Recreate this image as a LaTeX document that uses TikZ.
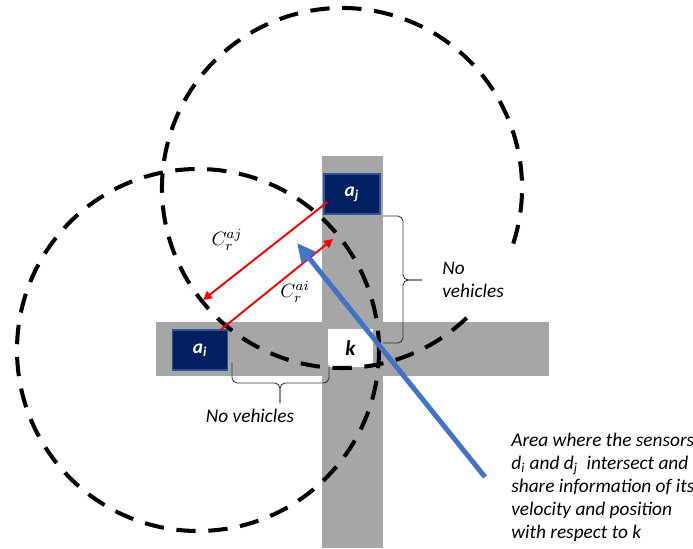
\documentclass[tikz,border=0pt]{standalone}
\usepackage{fontspec}
\setmainfont{Carlito}
\usetikzlibrary{arrows.meta}
\definecolor{roadgray}{HTML}{A6A6A6}
\definecolor{carblue}{HTML}{002060}
\definecolor{carline}{HTML}{2F5597}
\definecolor{areablue}{HTML}{4472C4}
\tikzset{
    road/.style={fill=roadgray},
    car/.style={fill=carblue, draw=carline, line width=0.6pt, text=white,
        font=\fontsize{11}{13}\selectfont\bfseries\itshape,
        minimum width=1.1cm, minimum height=0.8cm, inner sep=0pt},
    crossing/.style={fill=white, font=\fontsize{12}{14}\selectfont\bfseries\itshape,
        minimum width=0.9cm, minimum height=0.76cm, inner sep=0pt},
    sensor/.style={draw, line width=2.3pt, dash pattern=on 11pt off 7.2pt},
    reach/.style={red, line width=1.1pt, -{Triangle[length=5pt,width=5pt]}},
    pointer/.style={areablue, line width=2.8pt, -{Triangle[length=11pt,width=10pt]}},
    curly/.style={draw=black!80, line width=0.5pt, rounded corners=3pt},
    txt/.style={font=\fontsize{11}{13}\selectfont\itshape, inner sep=0pt}
}
\begin{document}
\begin{tikzpicture}[x=0.02cm, y=0.02cm]
        \useasboundingbox (0,0) rectangle (693,548);
        % roads
        \fill[road] (322,0) rectangle (383,392);
        \fill[road] (156,172) rectangle (549,226);
        \begin{scope}[every node/.style={car}]
            \node (ai) at (200,198) {a\textsubscript{i}};
            \node[minimum width=1.12cm] (aj) at (352,354) {a\textsubscript{j}};
        \end{scope}
        \node[crossing] (k) at (350.5,200) {k};
        % sensor ranges
        \coordinate (ci) at (198,198);
        \coordinate (cj) at (342,360);
        \draw[sensor] (ci) circle[radius=181];
        \draw[sensor] (cj) ++(-18:180) arc[start angle=-18, end angle=314, radius=180];
        % braces
        \coordinate (nv1a) at (232,185);
        \coordinate (nv1b) at (329,183);
        \coordinate (nv1t) at (280,145);
        \coordinate (nv2a) at (383,332);
        \coordinate (nv2b) at (383,205);
        \coordinate (nv2t) at (422,268);
        \draw[curly] (nv1a) -- (232,165) -- (280,165) -- (nv1t);
        \draw[curly] (nv1b) -- (329,165) -- (280,165) -- (nv1t);
        \draw[curly] (nv2a) -- (403,332) -- (403,268) -- (nv2t);
        \draw[curly] (nv2b) -- (403,205) -- (403,268) -- (nv2t);
        % ranges and pointer
        \coordinate (rj) at (203,248);
        \coordinate (ri) at (333,309);
        \coordinate (tail) at (485,71);
        \coordinate (meet) at (297,305);
        \path[reach] ([shift={(4,-8)}]aj.west) edge (rj);
        \path[reach] ([shift={(-7,0)}]ai.north east) edge (ri);
        \path[pointer] (tail) edge (meet);
        % labels
        \begin{scope}[every node/.style={txt}]
            \node (lj) at (227,308) {$C_r^{aj}$};
            \node (li) at (295,256) {$C_r^{ai}$};
            \node (nv1) at (250,132) {No vehicles};
            \node[anchor=west, align=left] (nv2) at (442,268) {No\\vehicles};
            \node[anchor=north west, align=left] (note) at (511,115)
                {Area where the sensors\\d\textsubscript{i} and d\textsubscript{j}\ \ intersect and\\share information of its\\velocity and position\\with respect to k};
        \end{scope}
    \end{tikzpicture}
\end{document}
